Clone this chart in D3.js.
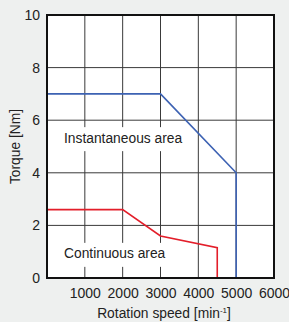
<!DOCTYPE html>
<html>
<head>
<meta charset="utf-8">
<script src="https://cdn.jsdelivr.net/npm/d3@7"></script>
<style>
  html, body { margin: 0; padding: 0; background: #eef0ef; }
  svg { display: block; font-family: "Liberation Sans", Arial, sans-serif; }
</style>
</head>
<body>
<svg id="chart" width="289" height="322"></svg>
<script>
const xTicks = [1000, 2000, 3000, 4000, 5000, 6000];
const yTicks = [0, 2, 4, 6, 8, 10];
const instSpeed = [0, 3000, 5000, 5000];
const instTorque = [7, 7, 4, 0];
const contSpeed = [0, 2000, 3000, 4500, 4500];
const contTorque = [2.6, 2.6, 1.6, 1.15, 0];
const areaLabels = ["Instantaneous area", "Continuous area"];
const labelPos = [[450, 5.28], [450, 0.88]]; // speed, torque at text centre-left

const margin = { left: 47, right: 15, top: 15, bottom: 44 };
const W = 289, H = 322;
const FS = 13.8;
const svg = d3.select("#chart");

const x = d3.scaleLinear().domain([0, 6000]).range([margin.left, W - margin.right]);
const y = d3.scaleLinear().domain([0, 10]).range([H - margin.bottom, margin.top]);

// plot background
svg.append("rect")
    .attr("x", x(0)).attr("y", y(10))
    .attr("width", x(6000) - x(0)).attr("height", y(0) - y(10))
    .attr("fill", "#fff");

// grid
svg.append("g").selectAll("line")
    .data(xTicks.slice(0, -1))
    .join("line")
    .attr("x1", d => x(d)).attr("x2", d => x(d))
    .attr("y1", y(0)).attr("y2", y(10))
    .attr("stroke", "#3a3a3a").attr("stroke-width", 1);
svg.append("g").selectAll("line")
    .data(yTicks.slice(1, -1))
    .join("line")
    .attr("x1", x(0)).attr("x2", x(6000))
    .attr("y1", d => y(d)).attr("y2", d => y(d))
    .attr("stroke", "#3a3a3a").attr("stroke-width", 1);

// area labels with white backing that breaks the grid
labelPos.forEach((p, i) => {
    const t = svg.append("text")
        .attr("x", x(p[0])).attr("y", y(p[1]))
        .attr("dominant-baseline", "middle")
        .attr("font-size", FS)
        .attr("fill", "#222")
        .text(areaLabels[i]);
    const b = t.node().getBBox();
    svg.insert("rect", "text")
        .attr("x", b.x - 4).attr("y", y(p[1]) - 12)
        .attr("width", b.width + 8).attr("height", 24)
        .attr("fill", "#fff");
});

const line = d3.line();
svg.append("path")
    .attr("d", line(instSpeed.map((s, i) => [x(s), y(instTorque[i])])))
    .attr("fill", "none").attr("stroke", "#3d62b3").attr("stroke-width", 1.6);
svg.append("path")
    .attr("d", line(contSpeed.map((s, i) => [x(s), y(contTorque[i])])))
    .attr("fill", "none").attr("stroke", "#e31e2a").attr("stroke-width", 1.6);

// frame
svg.append("rect")
    .attr("x", x(0)).attr("y", y(10))
    .attr("width", x(6000) - x(0)).attr("height", y(0) - y(10))
    .attr("fill", "none").attr("stroke", "#111").attr("stroke-width", 2);

// axes
const xAxis = svg.append("g")
    .attr("transform", `translate(0,${y(0)})`)
    .call(d3.axisBottom(x).tickValues(xTicks).tickSize(0).tickPadding(10).tickFormat(d3.format("d")));
const yAxis = svg.append("g")
    .attr("transform", `translate(${x(0)},0)`)
    .call(d3.axisLeft(y).tickValues(yTicks).tickSize(0).tickPadding(7));
[xAxis, yAxis].forEach(a => {
    a.select(".domain").remove();
    a.selectAll("text")
        .attr("font-size", 14)
        .attr("font-family", "'Liberation Sans', Arial, sans-serif")
        .attr("fill", "#222");
});

// titles
const xt = svg.append("text")
    .attr("x", 164).attr("y", 318)
    .attr("text-anchor", "middle")
    .attr("font-size", FS).attr("fill", "#222");
xt.append("tspan").text("Rotation speed [min");
xt.append("tspan").attr("font-size", 8).attr("dy", -5).text("-1");
xt.append("tspan").attr("dy", 5).text("]");

svg.append("text")
    .attr("transform", `translate(20,${(y(0) + y(10)) / 2}) rotate(-90)`)
    .attr("text-anchor", "middle")
    .attr("font-size", FS).attr("fill", "#222")
    .text("Torque [Nm]");
</script>
</body>
</html>
